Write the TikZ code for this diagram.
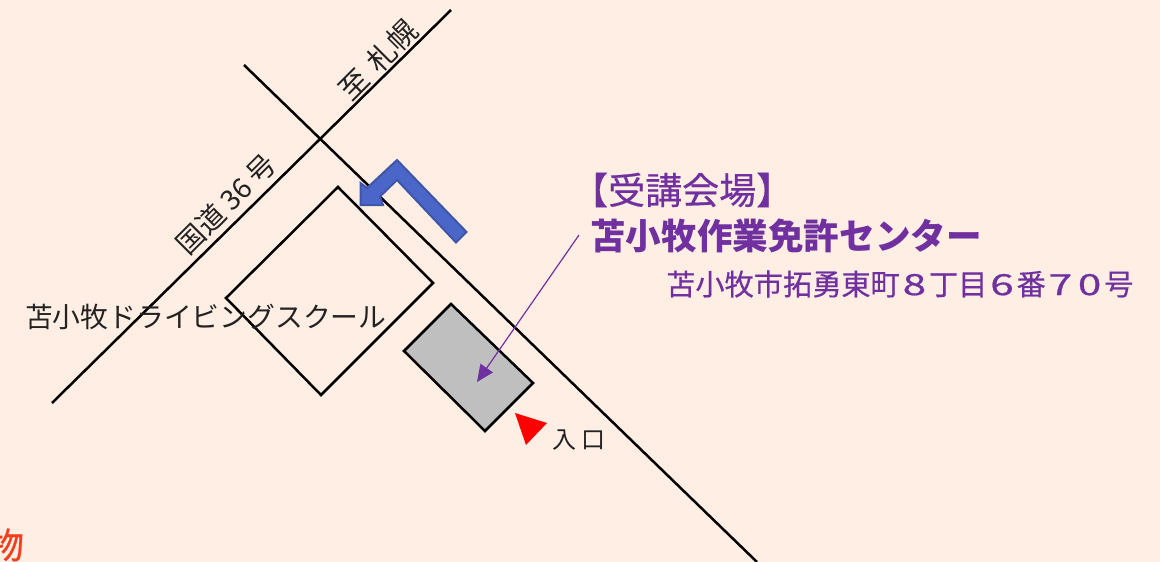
\documentclass[tikz,border=0pt]{standalone}
\usepackage{fontspec}
\setmainfont{Noto Sans CJK JP}
\newfontfamily\jpmid[FakeBold=0.5]{Noto Sans CJK JP}
\usetikzlibrary{arrows.meta}
\usepackage{graphicx}
\definecolor{bgc}{HTML}{FFEEE3}
\definecolor{venue}{HTML}{7030A0}
\definecolor{bluefill}{HTML}{4A66C8}
\definecolor{blueline}{HTML}{3F55A5}
\definecolor{orangered}{HTML}{F2401E}
\definecolor{labelc}{HTML}{222222}
\newcommand{\fs}[1]{\fontsize{#1}{#1}\selectfont}
\newcommand{\dg}[1]{\makebox[1em][c]{\scalebox{1.45}[1]{#1}}}
\tikzset{
  x=1pt,y=-1pt,
  road/.style={draw=black,line width=2.5pt},
  plainbox/.style={draw=black,line width=2.5pt,line join=miter},
  maplabel/.style={inner sep=0pt,text=labelc},
  venuetext/.style={inner sep=0pt,anchor=west,text=venue},
}
\begin{document}
\begin{tikzpicture}
\useasboundingbox (0,0) rectangle (1160,562);
\clip (0,0) rectangle (1160,562);
\fill[bgc] (0,0) rectangle (1160,562);
\coordinate (r1a) at (451,10);
\coordinate (r1b) at (52,403);
\coordinate (r2a) at (244,65);
\coordinate (r2b) at (757,562);
\draw[road] (r1a) -- (r1b);
\draw[road] (r2a) -- (r2b);
\draw[plainbox] (338,187) -- (433,283) -- (321,395) -- (226,298) -- cycle;
\draw[plainbox,fill=black!25] (451,304) -- (533,383) -- (485,431) -- (404,351) -- cycle;
\draw[fill=bluefill,draw=blueline,line width=2pt,line join=miter]
  (360.5,205) -- (360.5,183) -- (367,188) -- (397,160) -- (466.5,232) -- (456,242.5)
  -- (397,180) -- (380,196.5) -- (383,205) -- cycle;
\fill[red] (515,413) -- (547,423) -- (526,445) -- cycle;
\node[maplabel,rotate=45,font=\fs{28}] (rt) at (226,204) {国道 36 号};
\node[maplabel,rotate=45,font=\fs{29}] (sap) at (378,60) {至\kern11pt 札幌};
\node[maplabel,font=\fs{27.8},anchor=west] (school) at (25,317) {苫小牧ドライビングスクール};
\node[maplabel,font=\fs{24},anchor=west] (ent) at (552,440) {入\kern5pt 口};
\node[inner sep=0pt,text=orangered,font=\jpmid\fs{36}] (cut) at (6,545) {物};
\node[venuetext,font=\jpmid\fs{37}] (v1) at (571,190) {【受講会場】};
\node[venuetext,font=\bfseries\fs{35.6}] (v2) at (590,236) {苫小牧作業免許センター};
\node[venuetext,font=\jpmid\fs{29.2}] (v3) at (666,284) {苫小牧市拓勇東町\dg{8}丁目\dg{6}番\dg{7}\dg{0}号};
\coordinate (pstart) at (579,235);
\coordinate (ptip) at (477,382);
\draw[venue,line width=1.2pt,-{Triangle[length=17pt,width=15pt]}] (pstart) -- (ptip);
\end{tikzpicture}
\end{document}
